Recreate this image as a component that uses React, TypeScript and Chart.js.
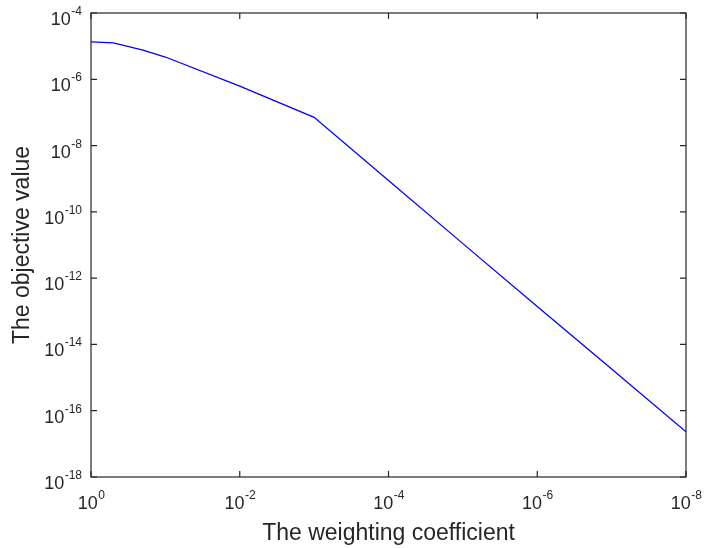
import { useEffect, useRef } from 'react';
import { Chart, registerables } from 'chart.js';

Chart.register(...registerables);

// weighting coefficient (x) and objective value (y)
const weightingCoefficients = [1, 0.5, 0.2, 0.1, 0.01, 0.001, 1e-4, 1e-5, 1e-6, 1e-7, 1e-8];
const objectiveValues = [1.35e-5, 1.25e-5, 7.6e-6, 4.7e-6, 6.2e-7, 7.1e-8, 8.9e-10, 1.1e-11, 1.4e-13, 1.8e-15, 2.3e-17];

// tick positions and their exponent labels (10^exp)
const xTickValues = [1, 1e-2, 1e-4, 1e-6, 1e-8];
const xTickExponents = ['0', '-2', '-4', '-6', '-8'];
const yTickValues = [1e-18, 1e-16, 1e-14, 1e-12, 1e-10, 1e-8, 1e-6, 1e-4];
const yTickExponents = ['-18', '-16', '-14', '-12', '-10', '-8', '-6', '-4'];

const xTitle = 'The weighting coefficient';
const yTitle = 'The objective value';

const AXIS_COLOR = '#262626';
const FONT = '"Liberation Sans", Arial, sans-serif';

const framePlugin = {
  id: 'matlabFrame',
  afterDraw(chart: any) {
    const { ctx, chartArea: a, scales } = chart;
    const xs = scales.x;
    const ys = scales.y;
    ctx.save();
    ctx.strokeStyle = AXIS_COLOR;
    ctx.lineWidth = 1.2;
    ctx.strokeRect(a.left, a.top, a.right - a.left, a.bottom - a.top);

    const tl = 6;
    ctx.beginPath();
    xTickValues.forEach((v) => {
      const px = xs.getPixelForValue(v);
      ctx.moveTo(px, a.bottom);
      ctx.lineTo(px, a.bottom - tl);
      ctx.moveTo(px, a.top);
      ctx.lineTo(px, a.top + tl);
    });
    yTickValues.forEach((v) => {
      const py = ys.getPixelForValue(v);
      ctx.moveTo(a.left, py);
      ctx.lineTo(a.left + tl, py);
      ctx.moveTo(a.right, py);
      ctx.lineTo(a.right - tl, py);
    });
    ctx.stroke();

    ctx.fillStyle = AXIS_COLOR;
    ctx.textBaseline = 'alphabetic';
    ctx.textAlign = 'left';
    const baseFont = `18px ${FONT}`;
    const expFont = `12px ${FONT}`;

    // x tick labels
    xTickValues.forEach((v, i) => {
      const px = xs.getPixelForValue(v);
      ctx.font = baseFont;
      const w1 = ctx.measureText('10').width;
      ctx.font = expFont;
      const w2 = ctx.measureText(xTickExponents[i]).width;
      const start = px - (w1 + w2) / 2;
      ctx.font = baseFont;
      ctx.fillText('10', start, a.bottom + 32);
      ctx.font = expFont;
      ctx.fillText(xTickExponents[i], start + w1 + 0.5, a.bottom + 22);
    });

    // y tick labels
    yTickValues.forEach((v, i) => {
      const py = ys.getPixelForValue(v);
      ctx.font = expFont;
      const w2 = ctx.measureText(yTickExponents[i]).width;
      ctx.font = baseFont;
      const w1 = ctx.measureText('10').width;
      const end = a.left - 9;
      ctx.fillText('10', end - w2 - w1 - 0.5, py + 12);
      ctx.font = expFont;
      ctx.fillText(yTickExponents[i], end - w2, py + 2);
    });

    // axis titles
    ctx.font = `23px ${FONT}`;
    ctx.textAlign = 'center';
    ctx.fillText(xTitle, (a.left + a.right) / 2, 540);
    ctx.save();
    ctx.translate(28.5, (a.top + a.bottom) / 2);
    ctx.rotate(-Math.PI / 2);
    ctx.fillText(yTitle, 0, 0);
    ctx.restore();

    ctx.restore();
  },
};

export default function App() {
  const canvasRef = useRef<HTMLCanvasElement | null>(null);

  useEffect(() => {
    if (!canvasRef.current) return;
    const chart = new Chart(canvasRef.current, {
      type: 'line',
      data: {
        datasets: [
          {
            data: weightingCoefficients.map((x, i) => ({ x, y: objectiveValues[i] })),
            borderColor: '#0000ff',
            borderWidth: 1.3,
            pointRadius: 0,
            tension: 0,
            fill: false,
          },
        ],
      },
      options: {
        animation: false,
        responsive: false,
        devicePixelRatio: 1,
        layout: { padding: { left: 91, top: 13, right: 18, bottom: 71 } },
        plugins: { legend: { display: false }, tooltip: { enabled: false } },
        scales: {
          x: {
            type: 'logarithmic',
            reverse: true,
            min: 1e-8,
            max: 1,
            ticks: { display: false },
            grid: { display: false },
            border: { display: false },
            afterFit: (s: any) => { s.height = 0; },
          },
          y: {
            type: 'logarithmic',
            min: 1e-18,
            max: 1e-4,
            ticks: { display: false },
            grid: { display: false },
            border: { display: false },
            afterFit: (s: any) => { s.width = 0; },
          },
        },
      },
      plugins: [framePlugin],
    });
    return () => chart.destroy();
  }, []);

  return (
    <div style={{ position: 'fixed', left: 0, top: 0, width: 704, height: 548, background: '#ffffff' }}>
      <canvas ref={canvasRef} width={704} height={548} />
    </div>
  );
}
